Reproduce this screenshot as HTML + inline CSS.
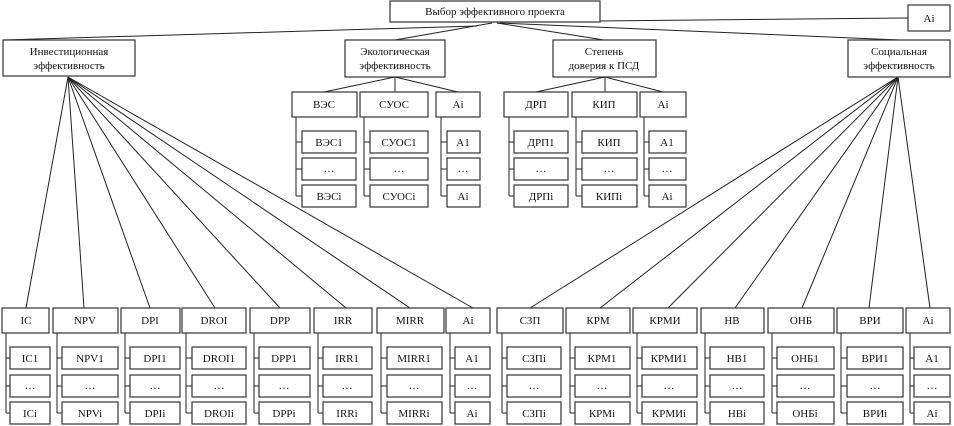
<!DOCTYPE html>
<html><head><meta charset="utf-8"><style>
html,body{margin:0;padding:0;background:#fff;}
svg{display:block;}
text{font-family:"Liberation Serif","DejaVu Serif",serif;font-size:11px;fill:#111;text-anchor:middle;}
rect{fill:#fff;stroke:#333;stroke-width:1.2;}
line,polyline{stroke:#222;stroke-width:1;fill:none;}
</style></head><body>
<svg width="954" height="426" viewBox="0 0 954 426" xmlns="http://www.w3.org/2000/svg">
<!-- top connectors -->
<line x1="477" y1="26" x2="3" y2="40"/>
<line x1="492" y1="23" x2="395" y2="40"/>
<line x1="497" y1="23" x2="604" y2="40"/>
<line x1="500" y1="23" x2="900" y2="40"/>
<line x1="500" y1="22" x2="908" y2="18"/>
<!-- eco connectors -->
<line x1="395" y1="77" x2="324" y2="92"/><line x1="395" y1="77" x2="395" y2="92"/><line x1="395" y1="77" x2="458" y2="92"/>
<line x1="605" y1="77" x2="536" y2="92"/><line x1="605" y1="77" x2="605" y2="92"/><line x1="605" y1="77" x2="663" y2="92"/>
<!-- fans -->
<g>
<line x1="68" y1="77" x2="26" y2="308"/><line x1="68" y1="77" x2="84" y2="308"/><line x1="68" y1="77" x2="150" y2="308"/><line x1="68" y1="77" x2="215" y2="308"/>
<line x1="68" y1="77" x2="280" y2="308"/><line x1="68" y1="77" x2="346" y2="308"/><line x1="68" y1="77" x2="410" y2="308"/><line x1="68" y1="77" x2="473" y2="308"/>
<line x1="898" y1="77" x2="530" y2="308"/><line x1="898" y1="77" x2="600" y2="308"/><line x1="898" y1="77" x2="668" y2="308"/><line x1="898" y1="77" x2="735" y2="308"/>
<line x1="898" y1="77" x2="802" y2="308"/><line x1="898" y1="77" x2="869" y2="308"/><line x1="898" y1="77" x2="930" y2="308"/>
</g>
<!-- top boxes -->
<rect x="390" y="1" width="210" height="21"/><text x="495" y="15">Выбор эффективного проекта</text>
<rect x="908" y="5" width="42" height="26"/><text x="929" y="22">Ai</text>
<rect x="3" y="40" width="132" height="36"/><text x="69" y="55">Инвестиционная</text><text x="69" y="69">эффективность</text>
<rect x="345" y="40" width="100" height="37"/><text x="395" y="55">Экологическая</text><text x="395" y="69">эффективность</text>
<rect x="553" y="40" width="103" height="37"/><text x="604" y="55">Степень</text><text x="604" y="69">доверия к ПСД</text>
<rect x="848" y="40" width="102" height="37"/><text x="899" y="55">Социальная</text><text x="899" y="69">эффективность</text>

<!-- middle groups: header y92-117, children 131,158,185 h22 -->
<g>
<polyline points="296,117 296,196"/><line x1="296" y1="142" x2="302" y2="142"/><line x1="296" y1="169" x2="302" y2="169"/><line x1="296" y1="196" x2="302" y2="196"/>
<rect x="292" y="92" width="65" height="25"/><text x="324" y="108">ВЭС</text>
<rect x="302" y="131" width="54" height="22"/><text x="329" y="146">ВЭС1</text>
<rect x="302" y="158" width="54" height="22"/><text x="329" y="172">…</text>
<rect x="302" y="185" width="54" height="22"/><text x="329" y="200">ВЭСi</text>

<polyline points="364,117 364,196"/><line x1="364" y1="142" x2="370" y2="142"/><line x1="364" y1="169" x2="370" y2="169"/><line x1="364" y1="196" x2="370" y2="196"/>
<rect x="360" y="92" width="68" height="25"/><text x="394" y="108">СУОС</text>
<rect x="370" y="131" width="58" height="22"/><text x="399" y="146">СУОС1</text>
<rect x="370" y="158" width="58" height="22"/><text x="399" y="172">…</text>
<rect x="370" y="185" width="58" height="22"/><text x="399" y="200">СУОСi</text>

<polyline points="441,117 441,196"/><line x1="441" y1="142" x2="447" y2="142"/><line x1="441" y1="169" x2="447" y2="169"/><line x1="441" y1="196" x2="447" y2="196"/>
<rect x="436" y="92" width="44" height="25"/><text x="458" y="108">Ai</text>
<rect x="447" y="131" width="33" height="22"/><text x="463" y="146">A1</text>
<rect x="447" y="158" width="33" height="22"/><text x="463" y="172">…</text>
<rect x="447" y="185" width="33" height="22"/><text x="463" y="200">Ai</text>

<polyline points="509,117 509,196"/><line x1="509" y1="142" x2="514" y2="142"/><line x1="509" y1="169" x2="514" y2="169"/><line x1="509" y1="196" x2="514" y2="196"/>
<rect x="504" y="92" width="64" height="25"/><text x="536" y="108">ДРП</text>
<rect x="514" y="131" width="54" height="22"/><text x="541" y="146">ДРП1</text>
<rect x="514" y="158" width="54" height="22"/><text x="541" y="172">…</text>
<rect x="514" y="185" width="54" height="22"/><text x="541" y="200">ДРПi</text>

<polyline points="576,117 576,196"/><line x1="576" y1="142" x2="582" y2="142"/><line x1="576" y1="169" x2="582" y2="169"/><line x1="576" y1="196" x2="582" y2="196"/>
<rect x="572" y="92" width="65" height="25"/><text x="604" y="108">КИП</text>
<rect x="582" y="131" width="55" height="22"/><text x="609" y="146">КИП</text>
<rect x="582" y="158" width="55" height="22"/><text x="609" y="172">…</text>
<rect x="582" y="185" width="55" height="22"/><text x="609" y="200">КИПi</text>

<polyline points="644,117 644,196"/><line x1="644" y1="142" x2="649" y2="142"/><line x1="644" y1="169" x2="649" y2="169"/><line x1="644" y1="196" x2="649" y2="196"/>
<rect x="640" y="92" width="46" height="25"/><text x="663" y="108">Ai</text>
<rect x="649" y="131" width="37" height="22"/><text x="667" y="146">A1</text>
<rect x="649" y="158" width="37" height="22"/><text x="667" y="172">…</text>
<rect x="649" y="185" width="37" height="22"/><text x="667" y="200">Ai</text>
</g>

<!-- bottom groups: header y308-333, children 347,375,402 h22 -->
<g>
<!-- IC -->
<polyline points="6,333 6,413"/><line x1="6" y1="358" x2="10" y2="358"/><line x1="6" y1="386" x2="10" y2="386"/><line x1="6" y1="413" x2="10" y2="413"/>
<rect x="2" y="308" width="47" height="25"/><text x="26" y="324">IC</text>
<rect x="10" y="347" width="40" height="22"/><text x="30" y="362">IC1</text>
<rect x="10" y="375" width="40" height="22"/><text x="30" y="389">…</text>
<rect x="10" y="402" width="40" height="22"/><text x="30" y="417">ICi</text>
<!-- NPV -->
<polyline points="57,333 57,413"/><line x1="57" y1="358" x2="62" y2="358"/><line x1="57" y1="386" x2="62" y2="386"/><line x1="57" y1="413" x2="62" y2="413"/>
<rect x="53" y="308" width="65" height="25"/><text x="85" y="324">NPV</text>
<rect x="62" y="347" width="56" height="22"/><text x="90" y="362">NPV1</text>
<rect x="62" y="375" width="56" height="22"/><text x="90" y="389">…</text>
<rect x="62" y="402" width="56" height="22"/><text x="90" y="417">NPVi</text>
<!-- DPI -->
<polyline points="125,333 125,413"/><line x1="125" y1="358" x2="130" y2="358"/><line x1="125" y1="386" x2="130" y2="386"/><line x1="125" y1="413" x2="130" y2="413"/>
<rect x="121" y="308" width="59" height="25"/><text x="150" y="324">DPI</text>
<rect x="130" y="347" width="50" height="22"/><text x="155" y="362">DPI1</text>
<rect x="130" y="375" width="50" height="22"/><text x="155" y="389">…</text>
<rect x="130" y="402" width="50" height="22"/><text x="155" y="417">DPIi</text>
<!-- DROI -->
<polyline points="186,333 186,413"/><line x1="186" y1="358" x2="192" y2="358"/><line x1="186" y1="386" x2="192" y2="386"/><line x1="186" y1="413" x2="192" y2="413"/>
<rect x="182" y="308" width="64" height="25"/><text x="214" y="324">DROI</text>
<rect x="192" y="347" width="54" height="22"/><text x="219" y="362">DROI1</text>
<rect x="192" y="375" width="54" height="22"/><text x="219" y="389">…</text>
<rect x="192" y="402" width="54" height="22"/><text x="219" y="417">DROIi</text>
<!-- DPP -->
<polyline points="254,333 254,413"/><line x1="254" y1="358" x2="259" y2="358"/><line x1="254" y1="386" x2="259" y2="386"/><line x1="254" y1="413" x2="259" y2="413"/>
<rect x="250" y="308" width="60" height="25"/><text x="280" y="324">DPP</text>
<rect x="259" y="347" width="51" height="22"/><text x="284" y="362">DPP1</text>
<rect x="259" y="375" width="51" height="22"/><text x="284" y="389">…</text>
<rect x="259" y="402" width="51" height="22"/><text x="284" y="417">DPPi</text>
<!-- IRR -->
<polyline points="318,333 318,413"/><line x1="318" y1="358" x2="323" y2="358"/><line x1="318" y1="386" x2="323" y2="386"/><line x1="318" y1="413" x2="323" y2="413"/>
<rect x="314" y="308" width="58" height="25"/><text x="343" y="324">IRR</text>
<rect x="323" y="347" width="49" height="22"/><text x="347" y="362">IRR1</text>
<rect x="323" y="375" width="49" height="22"/><text x="347" y="389">…</text>
<rect x="323" y="402" width="49" height="22"/><text x="347" y="417">IRRi</text>
<!-- MIRR -->
<polyline points="381,333 381,413"/><line x1="381" y1="358" x2="387" y2="358"/><line x1="381" y1="386" x2="387" y2="386"/><line x1="381" y1="413" x2="387" y2="413"/>
<rect x="377" y="308" width="67" height="25"/><text x="410" y="324">MIRR</text>
<rect x="387" y="347" width="55" height="22"/><text x="414" y="362">MIRR1</text>
<rect x="387" y="375" width="55" height="22"/><text x="414" y="389">…</text>
<rect x="387" y="402" width="55" height="22"/><text x="414" y="417">MIRRi</text>
<!-- Ai left -->
<polyline points="450,333 450,413"/><line x1="450" y1="358" x2="455" y2="358"/><line x1="450" y1="386" x2="455" y2="386"/><line x1="450" y1="413" x2="455" y2="413"/>
<rect x="446" y="308" width="44" height="25"/><text x="468" y="324">Ai</text>
<rect x="455" y="347" width="35" height="22"/><text x="472" y="362">A1</text>
<rect x="455" y="375" width="35" height="22"/><text x="472" y="389">…</text>
<rect x="455" y="402" width="35" height="22"/><text x="472" y="417">Ai</text>
<!-- СЗП -->
<polyline points="502,333 502,413"/><line x1="502" y1="358" x2="507" y2="358"/><line x1="502" y1="386" x2="507" y2="386"/><line x1="502" y1="413" x2="507" y2="413"/>
<rect x="497" y="308" width="66" height="25"/><text x="530" y="324">СЗП</text>
<rect x="507" y="347" width="54" height="22"/><text x="534" y="362">СЗПi</text>
<rect x="507" y="375" width="54" height="22"/><text x="534" y="389">…</text>
<rect x="507" y="402" width="54" height="22"/><text x="534" y="417">СЗПi</text>
<!-- КРМ -->
<polyline points="570,333 570,413"/><line x1="570" y1="358" x2="575" y2="358"/><line x1="570" y1="386" x2="575" y2="386"/><line x1="570" y1="413" x2="575" y2="413"/>
<rect x="566" y="308" width="64" height="25"/><text x="598" y="324">КРМ</text>
<rect x="575" y="347" width="55" height="22"/><text x="602" y="362">КРМ1</text>
<rect x="575" y="375" width="55" height="22"/><text x="602" y="389">…</text>
<rect x="575" y="402" width="55" height="22"/><text x="602" y="417">КРМi</text>
<!-- КРМИ -->
<polyline points="637,333 637,413"/><line x1="637" y1="358" x2="642" y2="358"/><line x1="637" y1="386" x2="642" y2="386"/><line x1="637" y1="413" x2="642" y2="413"/>
<rect x="633" y="308" width="64" height="25"/><text x="665" y="324">КРМИ</text>
<rect x="642" y="347" width="55" height="22"/><text x="669" y="362">КРМИ1</text>
<rect x="642" y="375" width="55" height="22"/><text x="669" y="389">…</text>
<rect x="642" y="402" width="55" height="22"/><text x="669" y="417">КРМИi</text>
<!-- НВ -->
<polyline points="705,333 705,413"/><line x1="705" y1="358" x2="710" y2="358"/><line x1="705" y1="386" x2="710" y2="386"/><line x1="705" y1="413" x2="710" y2="413"/>
<rect x="701" y="308" width="63" height="25"/><text x="732" y="324">НВ</text>
<rect x="710" y="347" width="54" height="22"/><text x="737" y="362">НВ1</text>
<rect x="710" y="375" width="54" height="22"/><text x="737" y="389">…</text>
<rect x="710" y="402" width="54" height="22"/><text x="737" y="417">НВi</text>
<!-- ОНБ -->
<polyline points="772,333 772,413"/><line x1="772" y1="358" x2="777" y2="358"/><line x1="772" y1="386" x2="777" y2="386"/><line x1="772" y1="413" x2="777" y2="413"/>
<rect x="768" y="308" width="66" height="25"/><text x="801" y="324">ОНБ</text>
<rect x="777" y="347" width="57" height="22"/><text x="805" y="362">ОНБ1</text>
<rect x="777" y="375" width="57" height="22"/><text x="805" y="389">…</text>
<rect x="777" y="402" width="57" height="22"/><text x="805" y="417">ОНБi</text>
<!-- ВРИ -->
<polyline points="841,333 841,413"/><line x1="841" y1="358" x2="847" y2="358"/><line x1="841" y1="386" x2="847" y2="386"/><line x1="841" y1="413" x2="847" y2="413"/>
<rect x="837" y="308" width="66" height="25"/><text x="870" y="324">ВРИ</text>
<rect x="847" y="347" width="56" height="22"/><text x="875" y="362">ВРИ1</text>
<rect x="847" y="375" width="56" height="22"/><text x="875" y="389">…</text>
<rect x="847" y="402" width="56" height="22"/><text x="875" y="417">ВРИi</text>
<!-- Ai right -->
<polyline points="910,333 910,413"/><line x1="910" y1="358" x2="914" y2="358"/><line x1="910" y1="386" x2="914" y2="386"/><line x1="910" y1="413" x2="914" y2="413"/>
<rect x="906" y="308" width="44" height="25"/><text x="928" y="324">Ai</text>
<rect x="914" y="347" width="36" height="22"/><text x="932" y="362">A1</text>
<rect x="914" y="375" width="36" height="22"/><text x="932" y="389">…</text>
<rect x="914" y="402" width="36" height="22"/><text x="932" y="417">Ai</text>
</g>
</svg>
</body></html>
